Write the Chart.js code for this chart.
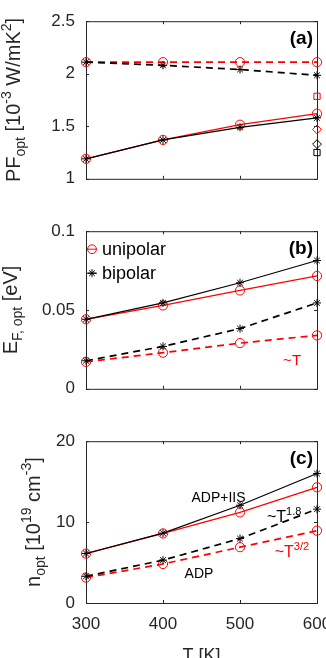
<!DOCTYPE html>
<html>
<head>
<meta charset="utf-8">
<script src="https://cdn.jsdelivr.net/npm/chart.js@4.4.1/dist/chart.umd.min.js"></script>
<style>
  html, body { margin: 0; padding: 0; background: #fff; }
  #wrap { position: relative; width: 326px; height: 658px; overflow: hidden; }
  .panel { position: absolute; left: 0; }
</style>
</head>
<body>
<div id="wrap">
  <canvas class="panel" id="chart-pf" width="345" height="200" style="top:0"></canvas>
  <canvas class="panel" id="chart-ef" width="345" height="200" style="top:210px"></canvas>
  <canvas class="panel" id="chart-n" width="345" height="260" style="top:420px"></canvas>
</div>
<script>
const temperatures = [300, 400, 500, 600];

// (a) optimal power factor, 10^-3 W/mK^2
const pfUnipolarAdp = [2.11, 2.11, 2.11, 2.11];
const pfBipolarAdp = [2.11, 2.08, 2.04, 1.985];
const pfUnipolarIis = [1.19, 1.37, 1.515, 1.62];
const pfBipolarIis = [1.19, 1.37, 1.49, 1.58];
const pfSideTemp = [600];
const pfRedSquare = [1.785];
const pfRedDiamond = [1.47];
const pfBlackDiamond = [1.33];
const pfBlackSquare = [1.25];

// (b) optimal Fermi level, eV
const efUnipolarIis = [0.0441, 0.0529, 0.0624, 0.0716];
const efBipolarIis = [0.0441, 0.0545, 0.0673, 0.0814];
const efUnipolarAdp = [0.0171, 0.0229, 0.029, 0.0339];
const efBipolarAdp = [0.0178, 0.0269, 0.0382, 0.0545];

// (c) optimal carrier density, 10^19 cm^-3
const nUnipolarIis = [6.1, 8.6, 11.2, 14.3];
const nBipolarIis = [6.12, 8.63, 12.08, 16.0];
const nUnipolarAdp = [3.14, 4.82, 6.9, 8.94];
const nBipolarAdp = [3.3, 5.3, 7.96, 11.6];

const pfTicks = [1, 2.5, 0.5];
const efTicks = [0, 0.1, 0.05];
const nTicks = [0, 20, 10];

const FONT = '"Liberation Sans", Arial, Helvetica, sans-serif';
const AXIS = '#262626';
const RED = '#ff0000';
const BLACK = '#000000';

function series(xs, values, color, marker, dashed) {
  return {
    data: values.map((v, i) => ({ x: xs[i], y: v })),
    borderColor: color,
    backgroundColor: 'rgba(0,0,0,0)',
    borderWidth: dashed ? 1.7 : 1.2,
    borderDash: dashed ? [7, 5] : [],
    showLine: true,
    pointStyle: marker,
    pointRadius: marker === 'circle' ? 4.6 : 4,
    pointHoverRadius: 4,
    pointBorderColor: color,
    pointBorderWidth: 1,
    pointBackgroundColor: 'rgba(0,0,0,0)',
    tension: 0,
    clip: false
  };
}

function markerOnly(values, color, marker) {
  const ds = series(pfSideTemp, values, color, marker, false);
  ds.showLine = false;
  ds.pointRadius = 4.4;
  return ds;
}

function richWidth(ctx, parts, size) {
  let w = 0;
  parts.forEach(([text, kind]) => {
    ctx.font = `${kind ? Math.round(size * 0.7) : size}px ${FONT}`;
    w += ctx.measureText(text).width;
  });
  return w;
}

function drawRich(ctx, parts, size, x, y, align) {
  let cx = align === 'center' ? x - richWidth(ctx, parts, size) / 2 : x;
  ctx.textBaseline = 'alphabetic';
  ctx.textAlign = 'left';
  parts.forEach(([text, kind]) => {
    ctx.font = `${kind ? Math.round(size * 0.7) : size}px ${FONT}`;
    const dy = kind === 1 ? -size * 0.45 : kind === -1 ? size * 0.25 : 0;
    ctx.fillText(text, cx, y + dy);
    cx += ctx.measureText(text).width;
  });
}

function drawStar(ctx, x, y, r) {
  ctx.beginPath();
  for (let k = 0; k < 4; k++) {
    const ang = (k * Math.PI) / 4;
    ctx.moveTo(x - r * Math.cos(ang), y - r * Math.sin(ang));
    ctx.lineTo(x + r * Math.cos(ang), y + r * Math.sin(ang));
  }
  ctx.stroke();
}

const panelDecor = {
  id: 'panelDecor',
  beforeDatasetsDraw(chart) {
    const { ctx, chartArea: a, scales: { x, y } } = chart;
    ctx.save();
    ctx.strokeStyle = AXIS;
    ctx.lineWidth = 1;
    ctx.strokeRect(a.left + 0.5, a.top + 0.5, a.right - a.left, a.bottom - a.top);
    ctx.beginPath();
    temperatures.forEach((t) => {
      const px = Math.round(x.getPixelForValue(t)) + 0.5;
      ctx.moveTo(px, a.bottom);
      ctx.lineTo(px, a.bottom - 3);
      ctx.moveTo(px, a.top);
      ctx.lineTo(px, a.top + 3);
    });
    y.ticks.forEach((t) => {
      const py = Math.round(y.getPixelForValue(t.value)) + 0.5;
      ctx.moveTo(a.left, py);
      ctx.lineTo(a.left + 3, py);
      ctx.moveTo(a.right, py);
      ctx.lineTo(a.right - 3, py);
    });
    ctx.stroke();
    ctx.restore();
  },
  afterDraw(chart, args, opts) {
    const { ctx, chartArea: a, scales: { x, y } } = chart;
    ctx.save();
    ctx.fillStyle = AXIS;

    // rotated y title
    ctx.save();
    ctx.translate(opts.titleX, (a.top + a.bottom) / 2);
    ctx.rotate(-Math.PI / 2);
    drawRich(ctx, opts.yTitle, 20, 0, 0, 'center');
    ctx.restore();

    // panel letter
    ctx.font = `bold 19px ${FONT}`;
    ctx.fillStyle = BLACK;
    ctx.textAlign = 'right';
    ctx.textBaseline = 'middle';
    ctx.fillText(opts.letter, a.right - 4, a.top + 18);

    (opts.notes || []).forEach((note) => {
      ctx.fillStyle = note.color;
      drawRich(ctx, note.parts, note.size, x.getPixelForValue(note.x), y.getPixelForValue(note.y), 'left');
    });

    if (opts.legend) {
      opts.legend.forEach((item, i) => {
        const cx = a.left + 6;
        const cy = a.top + 18 + i * 24;
        ctx.strokeStyle = item.color;
        ctx.lineWidth = 1;
        ctx.beginPath();
        ctx.moveTo(cx - 5, cy);
        ctx.lineTo(cx + 5, cy);
        ctx.stroke();
        if (item.marker === 'circle') {
          ctx.beginPath();
          ctx.arc(cx, cy, 4.4, 0, Math.PI * 2);
          ctx.stroke();
        } else {
          drawStar(ctx, cx, cy, 4);
        }
        ctx.fillStyle = BLACK;
        ctx.font = `18px ${FONT}`;
        ctx.textAlign = 'left';
        ctx.textBaseline = 'middle';
        ctx.fillText(item.label, a.left + 16, cy + 1);
      });
    }
    ctx.restore();
  }
};

// plain number labels, like 1, 1.5, 0.05, 0.1
const plainTick = (value) => String(Number(value.toPrecision(6)));

function yScale(range) {
  return {
    type: 'linear',
    min: range[0],
    max: range[1],
    ticks: {
      stepSize: range[2],
      color: AXIS,
      font: { family: FONT, size: 17 },
      padding: 11,
      callback: plainTick
    },
    grid: { display: false, drawTicks: false },
    border: { display: false },
    afterFit(scale) { scale.width = 86; }
  };
}

function xScale(showLabels) {
  const scale = {
    type: 'linear',
    min: 300,
    max: 600,
    display: showLabels,
    ticks: {
      stepSize: 100,
      color: AXIS,
      font: { family: FONT, size: 17 },
      padding: 11,
      maxRotation: 0,
      callback: plainTick
    },
    grid: { display: false, drawTicks: false },
    border: { display: false }
  };
  if (showLabels) {
    scale.title = {
      display: true,
      text: 'T [K]',
      color: AXIS,
      font: { family: FONT, size: 18 },
      padding: { top: 4, bottom: 13 }
    };
    scale.afterFit = (s) => { s.height = 77; };
  }
  return scale;
}

function makeChart(id, datasets, range, decor, showX) {
  return new Chart(document.getElementById(id), {
    type: 'line',
    data: { datasets },
    options: {
      responsive: false,
      animation: false,
      events: [],
      layout: { padding: { left: 0, right: 28, top: 13, bottom: showX ? 0 : 17 } },
      scales: { x: xScale(showX), y: yScale(range) },
      plugins: { legend: { display: false }, tooltip: { enabled: false }, panelDecor: decor }
    },
    plugins: [panelDecor]
  });
}

makeChart('chart-pf', [
  series(temperatures, pfBipolarIis, BLACK, 'star', false),
  series(temperatures, pfBipolarAdp, BLACK, 'star', true),
  series(temperatures, pfUnipolarIis, RED, 'circle', false),
  series(temperatures, pfUnipolarAdp, RED, 'circle', true),
  markerOnly(pfRedSquare, RED, 'rect'),
  markerOnly(pfRedDiamond, RED, 'rectRot'),
  markerOnly(pfBlackDiamond, BLACK, 'rectRot'),
  markerOnly(pfBlackSquare, BLACK, 'rect')
], pfTicks, {
  titleX: 20,
  letter: '(a)',
  yTitle: [['PF', 0], ['opt', -1], [' [10', 0], ['-3', 1], [' W/mK', 0], ['2', 1], [']', 0]]
}, false);

makeChart('chart-ef', [
  series(temperatures, efBipolarIis, BLACK, 'star', false),
  series(temperatures, efBipolarAdp, BLACK, 'star', true),
  series(temperatures, efUnipolarIis, RED, 'circle', false),
  series(temperatures, efUnipolarAdp, RED, 'circle', true)
], efTicks, {
  titleX: 17,
  letter: '(b)',
  yTitle: [['E', 0], ['F, opt', -1], [' [eV]', 0]],
  legend: [
    { label: 'unipolar', color: RED, marker: 'circle' },
    { label: 'bipolar', color: BLACK, marker: 'star' }
  ],
  notes: [{ parts: [['~T', 0]], size: 15, color: RED, x: 556, y: 0.0153 }]
}, false);

makeChart('chart-n', [
  series(temperatures, nBipolarIis, BLACK, 'star', false),
  series(temperatures, nBipolarAdp, BLACK, 'star', true),
  series(temperatures, nUnipolarIis, RED, 'circle', false),
  series(temperatures, nUnipolarAdp, RED, 'circle', true)
], nTicks, {
  titleX: 40,
  letter: '(c)',
  yTitle: [['n', 0], ['opt', -1], [' [10', 0], ['19', 1], [' cm', 0], ['-3', 1], [']', 0]],
  notes: [
    { parts: [['ADP+IIS', 0]], size: 14, color: BLACK, x: 437, y: 12.5 },
    { parts: [['~T', 0], ['1.8', 1]], size: 16, color: BLACK, x: 535, y: 10.0 },
    { parts: [['~T', 0], ['3/2', 1]], size: 16, color: RED, x: 545, y: 5.65 },
    { parts: [['ADP', 0]], size: 14, color: BLACK, x: 428, y: 3.06 }
  ]
}, true);
</script>
</body>
</html>
